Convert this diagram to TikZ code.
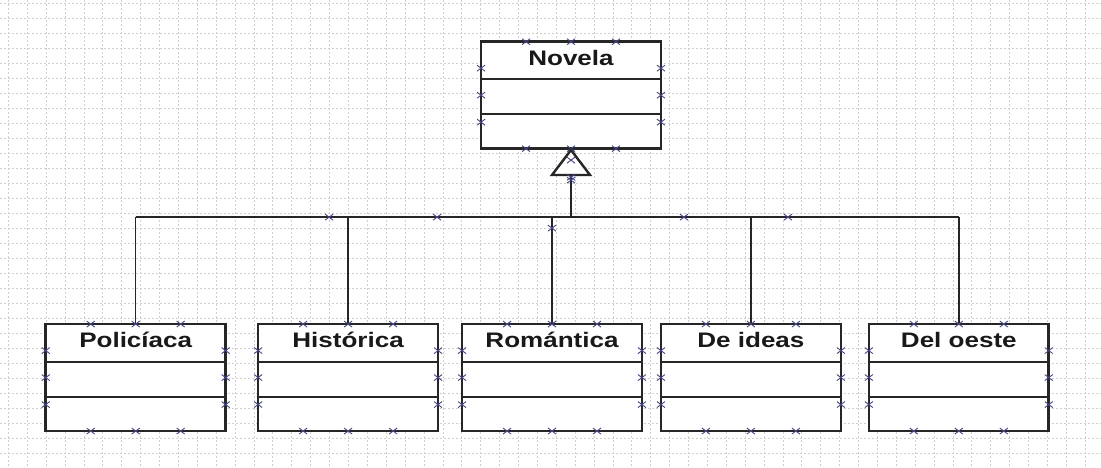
\documentclass[tikz,border=0pt]{standalone}
\usepackage{fontspec}
\newfontfamily\umlfont[FakeStretch=1.24]{Liberation Sans}
\usepackage{tikz}
\definecolor{hdlblue}{RGB}{70,70,135}

\begin{document}
\begin{tikzpicture}[x=1pt, y=-1pt,
    classbox/.style={draw=black!85, line width=2.6pt, fill=white, minimum width=180pt, minimum height=107pt, inner sep=0pt},
    title/.style={font=\umlfont\bfseries\fontsize{21pt}{21pt}\selectfont, text=black!90, anchor=base, inner sep=0pt},
    divider/.style={black!85, line width=2pt},
    edge/.style={black!85, line width=1.5pt},
    gridline/.style={gray!38, line width=0.5pt, dash pattern=on 2pt off 2pt},
    handle/.style={hdlblue, line width=0.9pt}]
        \def\busy{217}
        \def\hx#1{\draw[handle] #1 ++(-4,-3) -- ++(8,6) ++(0,-6) -- ++(-8,6);}
        \def\umlclass#1#2#3{
            \node[classbox] (#1) at (#2) {};
            \node[title] (#1-t) at ([yshift=-25pt]#1.north) {#3};
            \draw[divider] ([yshift=-39pt]#1.north west) -- ([yshift=-39pt]#1.north east);
            \draw[divider] ([yshift=-74pt]#1.north west) -- ([yshift=-74pt]#1.north east);
            \foreach \d in {-45,0,45} {
                \hx{([shift={(\d,-53.5)}]#1.center)}
                \hx{([shift={(\d,53.5)}]#1.center)}
            }
            \foreach \d in {-27,0,27} {
                \hx{([shift={(-90,\d)}]#1.center)}
                \hx{([shift={(90,\d)}]#1.center)}
            }
        }
        % background grid
        \fill[white] (0,0) rectangle (1101,467);
        \foreach \i in {0,...,57} \draw[gridline] (8+18.9*\i,0) -- (8+18.9*\i,467);
        \foreach \j in {0,...,30} \draw[gridline] (0,3.5+15*\j) -- (1101,3.5+15*\j);
        \useasboundingbox (0,0) rectangle (1101,467);
        % classes
        \umlclass{nov}{571,95}{Novela}
        \umlclass{pol}{135.5,377.5}{Policíaca}
        \umlclass{his}{348,377.5}{Histórica}
        \umlclass{rom}{552,377.5}{Romántica}
        \umlclass{ide}{751,377.5}{De ideas}
        \umlclass{oes}{959,377.5}{Del oeste}
        % generalisation
        \coordinate (bus) at (571,\busy);
        \coordinate (tri) at ([yshift=-25pt]nov.south);
        \draw[edge] (tri) -- (tri |- bus);
        \draw[edge] (pol.north |- bus) -- (oes.north |- bus);
        \foreach \c in {pol,his,rom,ide,oes} \draw[edge] (\c.north) -- (\c.north |- bus);
        \draw[black!85, line width=2.4pt, fill=white, line join=miter] (nov.south) -- ++(19,25) -- ++(-38,0) -- cycle;
        % handles
        \hx{(571,160)}
        \hx{(571,177)}
        \hx{(571,180)}
        \hx{(552,228)}
        \foreach \hpos in {329,437,684,788} {\hx{(\hpos,\busy)}}
    \end{tikzpicture}
\end{document}
